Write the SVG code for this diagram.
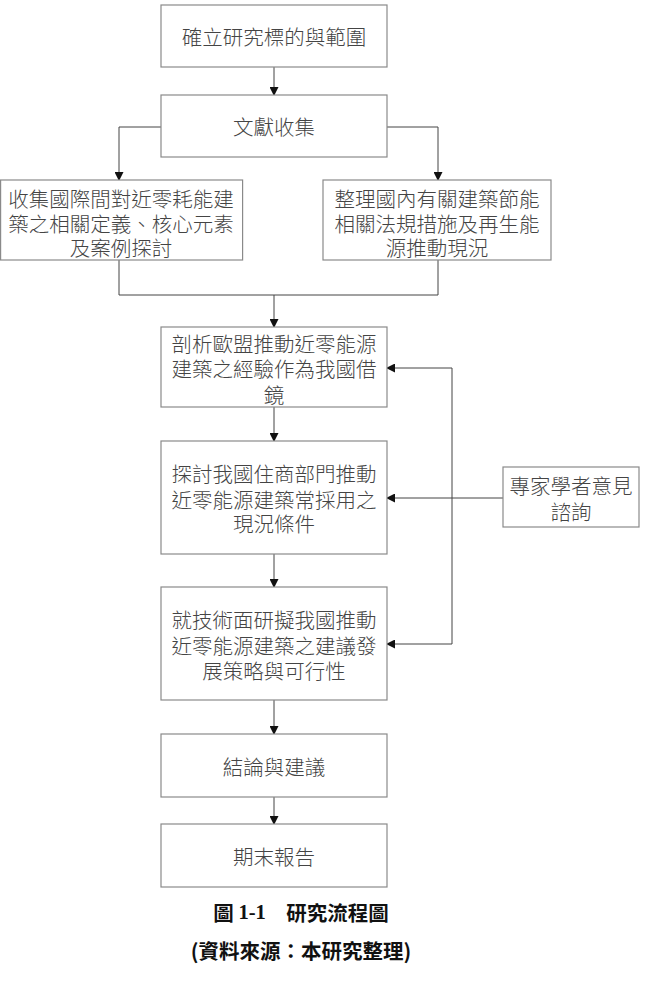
<svg xmlns="http://www.w3.org/2000/svg" width="647" height="1003" viewBox="0 0 647 1003">
<style>
.box{fill:#fff;stroke:#8a8a8a;stroke-width:1.2}
.t{font-family:"Noto Sans CJK TC","Noto Sans CJK SC",sans-serif;font-size:20.5px;fill:#444;text-anchor:middle;dominant-baseline:central;font-weight:300}
.c{fill:none;stroke:#444;stroke-width:1}
.cap{font-family:"Noto Sans CJK TC",sans-serif;font-size:20.5px;font-weight:bold;fill:#111;text-anchor:middle;dominant-baseline:central}
.num{font-family:"Liberation Serif",serif;font-weight:bold}
</style>
<defs>
<marker id="ah" markerWidth="9" markerHeight="9" refX="8" refY="4.5" orient="auto" markerUnits="userSpaceOnUse">
<path d="M0,0 L9,4.5 L0,9 Z" fill="#111"/>
</marker>
</defs>
<rect width="647" height="1003" fill="#fff"/>
<g id="connectors">
<path class="c" d="M274,67 V95" marker-end="url(#ah)"/>
<path class="c" d="M161,127 H119 V180" marker-end="url(#ah)"/>
<path class="c" d="M387,127 H438 V180" marker-end="url(#ah)"/>
<path class="c" d="M119,260 V295 H438 V260"/>
<path class="c" d="M274,295 V327" marker-end="url(#ah)"/>
<path class="c" d="M274,407 V441" marker-end="url(#ah)"/>
<path class="c" d="M274,554 V587" marker-end="url(#ah)"/>
<path class="c" d="M274,700 V734" marker-end="url(#ah)"/>
<path class="c" d="M274,797 V824" marker-end="url(#ah)"/>
<path class="c" d="M503,498 H387" marker-end="url(#ah)"/>
<path class="c" d="M452,368 H387" marker-end="url(#ah)"/>
<path class="c" d="M452,644 H387" marker-end="url(#ah)"/>
<path class="c" d="M452,368 V644"/>
</g>
<g id="n1"><rect class="box" x="161" y="5" width="226" height="62"/><text class="t" x="274" y="36">確立研究標的與範圍</text></g>
<g id="n2"><rect class="box" x="161" y="95" width="226" height="62"/><text class="t" x="274" y="126">文獻收集</text></g>
<g id="n3"><rect class="box" x="0.6" y="180" width="242" height="80"/>
<text class="t"><tspan x="121" y="198">收集國際間對近零耗能建</tspan><tspan x="121" y="223">築之相關定義、核心元素</tspan><tspan x="121" y="247">及案例探討</tspan></text></g>
<g id="n4"><rect class="box" x="323" y="180" width="228" height="80"/>
<text class="t"><tspan x="437" y="198">整理國內有關建築節能</tspan><tspan x="437" y="223">相關法規措施及再生能</tspan><tspan x="437" y="247">源推動現況</tspan></text></g>
<g id="n5"><rect class="box" x="161" y="327" width="226" height="80"/>
<text class="t"><tspan x="274" y="343">剖析歐盟推動近零能源</tspan><tspan x="274" y="368">建築之經驗作為我國借</tspan><tspan x="274" y="394">鏡</tspan></text></g>
<g id="n6"><rect class="box" x="161" y="441" width="226" height="113"/>
<text class="t"><tspan x="274" y="473">探討我國住商部門推動</tspan><tspan x="274" y="499">近零能源建築常採用之</tspan><tspan x="274" y="523">現況條件</tspan></text></g>
<g id="n7"><rect class="box" x="503" y="467" width="136" height="60"/>
<text class="t"><tspan x="571" y="485">專家學者意見</tspan><tspan x="571" y="511">諮詢</tspan></text></g>
<g id="n8"><rect class="box" x="161" y="587" width="226" height="113"/>
<text class="t"><tspan x="274" y="619">就技術面研擬我國推動</tspan><tspan x="274" y="645">近零能源建築之建議發</tspan><tspan x="274" y="670">展策略與可行性</tspan></text></g>
<g id="n9"><rect class="box" x="161" y="734" width="226" height="63"/><text class="t" x="274" y="766">結論與建議</text></g>
<g id="n10"><rect class="box" x="161" y="824" width="226" height="63"/><text class="t" x="274" y="856">期末報告</text></g>
<g id="caption">
<text class="cap" x="301" y="912">圖 <tspan class="num">1-1</tspan>　研究流程圖</text>
<text class="cap" x="301" y="950">(資料來源：本研究整理)</text>
</g>
</svg>
